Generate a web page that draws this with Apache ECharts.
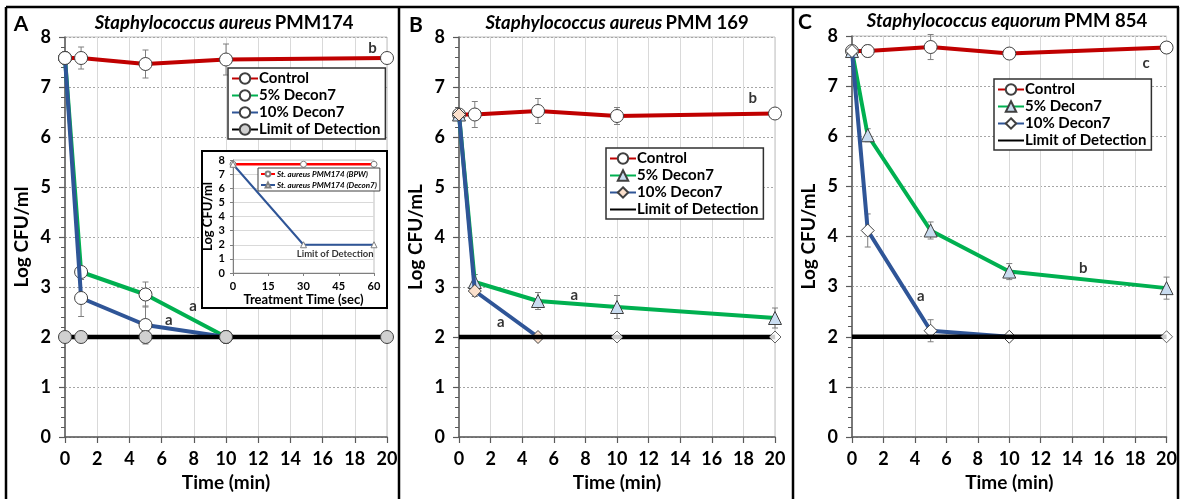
<!DOCTYPE html>
<html>
<head>
<meta charset="utf-8">
<script src="https://cdn.jsdelivr.net/npm/echarts@6/dist/echarts.min.js"></script>
<style>html,body{margin:0;padding:0;background:#fff;}#c{width:1180px;height:499px;}</style>
</head>
<body>
<div id="c"></div>
<script>
// ---------------- DATA ----------------
const times = [0, 1, 5, 10, 20];
const lodValue = 2.0;

// Panel A: Staphylococcus aureus PMM174
const controlA = [7.58, 7.58, 7.46, 7.55, 7.58];
const controlAErr = [0, 0.22, 0.28, 0.31, 0];
const decon5A = [7.58, 3.30, 2.85, 2.00, null];
const decon5AErr = [0, 0, 0.25, 0, 0];
const decon10A = [7.58, 2.78, 2.24, 2.00, null];
const decon10AErr = [0, 0.37, 0.38, 0, 0];
const lodA = [2, 2, 2, 2, 2];
const notesA = [[19.1, 7.78, 'b'], [7.95, 2.62, 'a'], [6.45, 2.33, 'a']];

// Panel B: Staphylococcus aureus PMM 169
const controlB = [6.45, 6.45, 6.52, 6.42, 6.47];
const controlBErr = [0, 0.26, 0.25, 0.17, 0];
const decon5B = [6.45, 3.10, 2.72, 2.60, 2.38];
const decon5BErr = [0, 0.15, 0.17, 0.23, 0.20];
const decon10B = [6.45, 2.92, 2.00, 2.00, 2.00];
const decon10BErr = [0, 0.11, 0, 0, 0];
const lodB = [2, 2, 2, 2, 2];
const notesB = [[18.6, 6.78, 'b'], [7.3, 2.83, 'a'], [2.65, 2.3, 'a']];

// Panel C: Staphylococcus equorum PMM 854
const controlC = [7.70, 7.70, 7.78, 7.65, 7.77];
const controlCErr = [0.10, 0.12, 0.25, 0.10, 0];
const decon5C = [7.70, 6.02, 4.12, 3.30, 2.97];
const decon5CErr = [0, 0.13, 0.17, 0.16, 0.22];
const decon10C = [7.70, 4.12, 2.12, 2.00, 2.00];
const decon10CErr = [0, 0.33, 0.22, 0, 0];
const lodC = [2, 2, 2, 2, 2];
const notesC = [[18.7, 7.45, 'c'], [14.7, 3.37, 'b'], [4.37, 2.8, 'a']];

// Inset (panel A): treatment time in seconds
const insetTimes = [0, 30, 60];
const insetBPW = [7.7, 7.7, 7.7];
const insetDecon7 = [7.7, 2.0, 2.0];
const insetNotes = [[43.5, 1.35, 'Limit of Detection']];

const xTicksMain = [0, 20, 2];   // min, max, interval
const yTicksMain = [0, 8, 1];
const xTicksInset = [0, 60, 15];
const yTicksInset = [0, 8, 1];

const titles = [
  ['Staphylococcus aureus', 'PMM174'],
  ['Staphylococcus aureus', 'PMM 169'],
  ['Staphylococcus equorum', 'PMM 854']
];
const panelLetters = ['A', 'B', 'C'];
const yNames = ['Log CFU/ml', 'Log CFU/mL', 'Log CFU/mL'];
const seriesNames = ['Control', '5% Decon7', '10% Decon7', 'Limit of Detection'];
const insetNames = ['St. aureus PMM174 (BPW)', 'St. aureus PMM174 (Decon7)'];

// ---------------- STYLE / LAYOUT ----------------
const FONT = 'Lato, "Liberation Sans", sans-serif';
const RED = '#c00000', GREEN = '#00b050', BLUE = '#2f5597', BLACK = '#000000';
const EDGE = '#404040';

const panels = [
  {key: 'A', grid: {left: 65, top: 37, width: 322, height: 400},
   control: controlA, controlErr: controlAErr, d5: decon5A, d5Err: decon5AErr, d10: decon10A, d10Err: decon10AErr, lod: lodA, notes: notesA,
   sym5: 'circle', fill5: '#ffffff', sym10: 'circle', fill10: '#ffffff', lodMarker: true,
   legend: {left: 228, top: 68}},
  {key: 'B', grid: {left: 459, top: 37, width: 316, height: 400},
   control: controlB, controlErr: controlBErr, d5: decon5B, d5Err: decon5BErr, d10: decon10B, d10Err: decon10BErr, lod: lodB, notes: notesB,
   sym5: 'triangle', fill5: '#c9dcf0', sym10: 'diamond', fill10: '#fbe0cc', lodMarker: false,
   legend: {left: 606, top: 148}},
  {key: 'C', grid: {left: 852, top: 36, width: 316, height: 401},
   control: controlC, controlErr: controlCErr, d5: decon5C, d5Err: decon5CErr, d10: decon10C, d10Err: decon10CErr, lod: lodC, notes: notesC,
   sym5: 'triangle', fill5: '#c9dcf0', sym10: 'diamond', fill10: '#ffffff', lodMarker: false,
   legend: {left: 994, top: 79}}
];

function pairs(vals) {
  const out = [];
  vals.forEach((v, i) => { if (v !== null && v !== undefined) out.push([times[i], v]); });
  return out;
}
function errPairs(vals, errs) {
  const out = [];
  vals.forEach((v, i) => { if (v !== null && errs[i] > 0) out.push([times[i], v - errs[i], v + errs[i]]); });
  return out;
}
function splitAtLod(vals) {
  const idx = vals.findIndex(v => v !== null && v <= lodValue);
  const line = vals.map((v, i) => (idx < 0 || i <= idx) ? v : null);
  const rest = vals.map((v, i) => (idx >= 0 && i > idx) ? v : null);
  return [line, rest];
}

const grids = [], xAxes = [], yAxes = [], series = [], legends = [], graphics = [];

function errorRender(params, api) {
  const x = api.value(0);
  const p1 = api.coord([x, api.value(1)]);
  const p2 = api.coord([x, api.value(2)]);
  const w = 3;
  const st = {stroke: '#7f7f7f', lineWidth: 1};
  return {type: 'group', children: [
    {type: 'line', shape: {x1: p1[0], y1: p1[1], x2: p2[0], y2: p2[1]}, style: st},
    {type: 'line', shape: {x1: p1[0] - w, y1: p1[1], x2: p1[0] + w, y2: p1[1]}, style: st},
    {type: 'line', shape: {x1: p2[0] - w, y1: p2[1], x2: p2[0] + w, y2: p2[1]}, style: st}
  ]};
}

panels.forEach((p, gi) => {
  grids.push(Object.assign({show: true, borderColor: '#bfbfbf', borderWidth: 1, backgroundColor: 'transparent'}, p.grid));
  xAxes.push({
    type: 'value', gridIndex: gi, min: xTicksMain[0], max: xTicksMain[1], interval: xTicksMain[2],
    axisLine: {show: true, onZero: false, lineStyle: {color: '#595959', width: 1.5}},
    axisTick: {show: true, length: 6, lineStyle: {color: '#595959', width: 1.2}},
    axisLabel: {fontFamily: FONT, fontSize: 18, fontWeight: 'bold', color: '#000', margin: 13},
    splitLine: {show: true, lineStyle: {color: '#d9d9d9', width: 1}},
    name: 'Time (min)', nameLocation: 'middle', nameGap: 36,
    nameTextStyle: {fontFamily: FONT, fontSize: 19, fontWeight: 'bold', color: '#000'}
  });
  yAxes.push({
    type: 'value', gridIndex: gi, min: yTicksMain[0], max: yTicksMain[1], interval: yTicksMain[2],
    axisLine: {show: true, lineStyle: {color: '#595959', width: 1.5}},
    axisTick: {show: true, length: 6, lineStyle: {color: '#595959', width: 1.2}},
    minorTick: {show: true, splitNumber: 5, length: 4, lineStyle: {color: '#595959', width: 1}},
    axisLabel: {fontFamily: FONT, fontSize: 18, fontWeight: 'bold', color: '#000', margin: 14},
    splitLine: {show: true, lineStyle: {color: '#a6a6a6', width: 1, type: [2, 2]}},
    name: yNames[gi], nameLocation: 'middle', nameGap: 34,
    nameTextStyle: {fontFamily: FONT, fontSize: 19, fontWeight: 'bold', color: '#000'}
  });
  const k = p.key + '|';
  const base = {xAxisIndex: gi, yAxisIndex: gi, animation: false};
  // error bars
  [[p.control, p.controlErr], [p.d5, p.d5Err], [p.d10, p.d10Err]].forEach((pe, j) => {
    series.push(Object.assign({type: 'custom', name: k + 'err' + j, renderItem: errorRender, data: errPairs(pe[0], pe[1]), z: 1, silent: true}, base));
  });
  // control
  series.push(Object.assign({type: 'line', name: k + seriesNames[0], data: pairs(p.control), z: 3,
    symbol: 'circle', symbolSize: 13, showAllSymbol: true,
    lineStyle: {color: RED, width: 4}, itemStyle: {color: '#ffffff', borderColor: EDGE, borderWidth: 1}}, base));
  // 5%
  series.push(Object.assign({type: 'line', name: k + seriesNames[1], data: pairs(p.d5), z: 4,
    symbol: p.sym5, symbolSize: 13,
    lineStyle: {color: GREEN, width: 4}, itemStyle: {color: p.fill5, borderColor: EDGE, borderWidth: 1}}, base));
  // 10%
  const sp = splitAtLod(p.d10);
  series.push(Object.assign({type: 'line', name: k + seriesNames[2], data: pairs(sp[0]), z: 5,
    symbol: p.sym10, symbolSize: 13,
    lineStyle: {color: BLUE, width: 4}, itemStyle: {color: p.fill10, borderColor: EDGE, borderWidth: 1}}, base));
  // LOD
  series.push(Object.assign({type: 'line', name: k + seriesNames[3], data: pairs(p.lod), z: 6,
    symbol: 'circle', symbolSize: p.lodMarker ? 13 : 0,
    lineStyle: {color: BLACK, width: 4.5},
    itemStyle: p.lodMarker ? {color: '#d0d0d0', borderColor: EDGE, borderWidth: 1}
                           : {color: 'rgba(0,0,0,0)', borderColor: 'rgba(0,0,0,0)', borderWidth: 0}}, base));
  // 10% remaining markers on the LOD line
  series.push(Object.assign({type: 'scatter', name: k + '10rest', data: pairs(sp[1]), z: 7,
    symbol: p.sym10, symbolSize: 12, itemStyle: {color: '#ffffff', borderColor: EDGE, borderWidth: 1}}, base));
  // significance letters
  series.push(Object.assign({type: 'scatter', name: k + 'notes', data: p.notes, z: 8, symbolSize: 1,
    itemStyle: {color: 'rgba(0,0,0,0)'},
    label: {show: true, position: 'inside', formatter: d => d.data[2], fontFamily: FONT, fontSize: 15, fontWeight: 'bold', color: '#000'}}, base));

  legends.push({
    left: p.legend.left, top: p.legend.top, orient: 'vertical',
    data: seriesNames.map(n => k + n), formatter: n => n.split('|')[1],
    backgroundColor: '#ffffff', borderColor: '#303030', borderWidth: 1.5, padding: [3, 5, 2, 3],
    itemWidth: 26, itemHeight: 13, itemGap: 2, z: 20, selectedMode: false,
    textStyle: {fontFamily: FONT, fontSize: 15, fontWeight: 'bold', color: '#000', padding: [0, 0, 0, -4]}
  });
});

// ---------------- INSET ----------------
const gi = 3;
grids.push({left: 233, top: 160, width: 141, height: 113, show: true, borderColor: '#bfbfbf', borderWidth: 1, z: 12});
xAxes.push({
  type: 'value', gridIndex: gi, min: xTicksInset[0], max: xTicksInset[1], interval: xTicksInset[2], z: 12,
  axisLine: {show: true, onZero: false, lineStyle: {color: '#7f7f7f', width: 1}},
  axisTick: {show: true, length: 3, lineStyle: {color: '#7f7f7f'}},
  axisLabel: {fontFamily: FONT, fontSize: 11, fontWeight: 'bold', color: '#000', margin: 8},
  splitLine: {show: false},
  name: 'Treatment Time (sec)', nameLocation: 'middle', nameGap: 20,
  nameTextStyle: {fontFamily: FONT, fontSize: 13, fontWeight: 'bold', color: '#000'}
});
yAxes.push({
  type: 'value', gridIndex: gi, min: yTicksInset[0], max: yTicksInset[1], interval: yTicksInset[2], z: 12,
  axisLine: {show: true, lineStyle: {color: '#7f7f7f', width: 1}},
  axisTick: {show: true, length: 3, lineStyle: {color: '#7f7f7f'}},
  axisLabel: {fontFamily: FONT, fontSize: 11, fontWeight: 'bold', color: '#000', margin: 8},
  splitLine: {show: true, lineStyle: {color: '#d9d9d9', width: 1}},
  name: 'Log CFU/ml', nameLocation: 'middle', nameGap: 17,
  nameTextStyle: {fontFamily: FONT, fontSize: 13, fontWeight: 'bold', color: '#000'}
});
series.push({type: 'line', name: 'I|' + insetNames[0], xAxisIndex: gi, yAxisIndex: gi, z: 14, animation: false,
  data: insetTimes.map((t, i) => [t, insetBPW[i]]), symbol: 'circle', symbolSize: 6,
  lineStyle: {color: '#ff0000', width: 2.5}, itemStyle: {color: '#ffffff', borderColor: '#808080', borderWidth: 1}});
series.push({type: 'line', name: 'I|' + insetNames[1], xAxisIndex: gi, yAxisIndex: gi, z: 14, animation: false,
  data: insetTimes.map((t, i) => [t, insetDecon7[i]]), symbol: 'triangle', symbolSize: 6,
  lineStyle: {color: BLUE, width: 2}, itemStyle: {color: '#ffffff', borderColor: '#808080', borderWidth: 1}});
series.push({type: 'scatter', name: 'I|notes', xAxisIndex: gi, yAxisIndex: gi, z: 15, animation: false,
  data: insetNotes, symbolSize: 1, itemStyle: {color: 'rgba(0,0,0,0)'},
  label: {show: true, position: 'inside', formatter: d => d.data[2], fontFamily: FONT, fontSize: 9.5, fontWeight: 'bold', color: '#000'}});
legends.push({
  left: 258, top: 168, orient: 'vertical', data: insetNames.map(n => 'I|' + n), formatter: n => n.split('|')[1],
  backgroundColor: '#ffffff', borderColor: '#404040', borderWidth: 1, padding: [2, 3, 2, 2],
  itemWidth: 14, itemHeight: 6, itemGap: 3, z: 20, selectedMode: false,
  textStyle: {fontFamily: FONT, fontSize: 8, fontStyle: 'italic', fontWeight: 'bold', color: '#000', padding: [0, 0, 0, -3]}
});

// ---------------- DECORATION ----------------
graphics.push({type: 'rect', shape: {x: 202, y: 151, width: 185, height: 157}, style: {fill: '#ffffff', stroke: '#000', lineWidth: 2}, z: 10});
const frameStroke = {stroke: '#000', lineWidth: 2.5};
graphics.push({type: 'line', shape: {x1: 6, y1: 7, x2: 1179, y2: 7}, style: frameStroke, z: 30});
[6, 399, 793, 1178].forEach(x => graphics.push({type: 'line', shape: {x1: x, y1: 7, x2: x, y2: 499}, style: frameStroke, z: 30}));
const letterPos = [[21, 24], [416, 25], [805, 22]];
panelLetters.forEach((L, i) => graphics.push({type: 'text', x: letterPos[i][0], y: letterPos[i][1], z: 30,
  style: {text: L, fontFamily: FONT, fontSize: 21, fontWeight: 'bold', fill: '#000', align: 'center', verticalAlign: 'middle'}}));
const titlePos = [[224, 23], [617, 23], [1007, 21]];
titles.forEach((t, i) => graphics.push({type: 'text', x: titlePos[i][0], y: titlePos[i][1], z: 30,
  style: {text: '{i|' + t[0] + '} {n|' + t[1] + '}', align: 'center', verticalAlign: 'middle',
    rich: {i: {fontFamily: FONT, fontSize: 18.5, fontStyle: 'italic', fontWeight: 'bold', fill: '#000'},
           n: {fontFamily: FONT, fontSize: 18.5, fontWeight: 'bold', fill: '#000'}}}}));

const chart = echarts.init(document.getElementById('c'), null, {renderer: 'canvas'});
chart.setOption({
  backgroundColor: '#ffffff',
  animation: false,
  textStyle: {fontFamily: FONT},
  grid: grids, xAxis: xAxes, yAxis: yAxes, series: series, legend: legends,
  graphic: {elements: graphics}
});
</script>
</body>
</html>
